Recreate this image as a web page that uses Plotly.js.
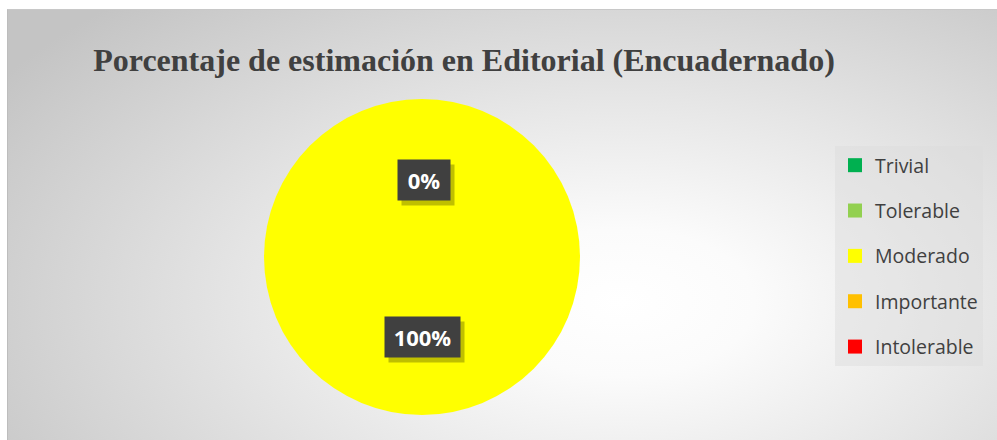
<!DOCTYPE html>
<html>
<head>
<meta charset="utf-8">
<script src="https://cdn.plot.ly/plotly-3.0.1.min.js"></script>
<style>
  html, body { margin: 0; padding: 0; background: #ffffff; }
  #wrap { position: relative; width: 997px; height: 440px; overflow: hidden; }
  #frame {
    position: absolute; left: 7px; top: 9px; width: 990px; height: 431px;
    box-sizing: border-box;
    border-top: 1px solid #c8c8c8; border-left: 1px solid #bdbdbd;
    background: radial-gradient(ellipse 75% 95% at 62% 68%, #ffffff 0%, #fbfbfb 18%, #e6e6e6 50%, #c4c4c4 100%);
  }
  #chart { position: absolute; left: 0; top: 0; width: 997px; height: 440px; }
</style>
</head>
<body>
<div id="wrap">
  <div id="frame"></div>
  <div id="chart"></div>
</div>
<script>
// ---- data ----
const categories = ["Trivial", "Tolerable", "Moderado", "Importante", "Intolerable"];
const values = [0, 0, 100, 0, 0];
const colors = ["#00B050", "#92D050", "#FFFF00", "#FFC000", "#FF0000"];
const chartTitle = "Porcentaje de estimación en Editorial (Encuadernado)";

// visible data labels: the stacked zero labels and the full slice
const labelValues = [0, 100];

const pie = {
  type: "pie",
  labels: categories,
  values: values,
  marker: { colors: colors, line: { width: 0 } },
  sort: false,
  direction: "clockwise",
  rotation: 0,
  textinfo: "none",
  hoverinfo: "label+percent",
  showlegend: false,
  domain: { x: [264 / 997, 580 / 997], y: [25 / 440, 341 / 440] }
};

// legend entries, one per category (drawn by Plotly's legend)
const legendTraces = categories.map((c, i) => ({
  type: "scatter",
  mode: "markers",
  x: [null], y: [null],
  name: c,
  legendgroup: "g" + i,
  marker: { symbol: "square", size: 14, color: colors[i] },
  hoverinfo: "skip",
  showlegend: true
}));

// data label boxes (with soft shadow behind)
const labelPos = [
  { x: 424 / 997, y: 1 - 180 / 440, w: 40 },
  { x: 422 / 997, y: 1 - 337 / 440, w: 63 }
];
const annotations = [];
labelValues.forEach((v, i) => {
  const p = labelPos[i];
  const txt = v + "%";
  annotations.push({
    xref: "paper", yref: "paper", x: p.x, y: p.y, xanchor: "center", yanchor: "middle",
    xshift: 4, yshift: -5,
    text: " ", showarrow: false, width: p.w, height: 28, borderpad: 6,
    bgcolor: "rgba(0,0,0,0.25)",
    font: { family: "Open Sans, sans-serif", size: 22, color: "rgba(0,0,0,0)" }
  });
  annotations.push({
    xref: "paper", yref: "paper", x: p.x, y: p.y, xanchor: "center", yanchor: "middle",
    text: txt, showarrow: false, width: p.w, height: 28, borderpad: 6,
    bgcolor: "#404040",
    font: { family: "Open Sans, sans-serif", size: 22, color: "#ffffff", weight: "bold" }
  });
});

const layout = {
  width: 997, height: 440,
  margin: { l: 0, r: 0, t: 0, b: 0 },
  paper_bgcolor: "rgba(0,0,0,0)",
  plot_bgcolor: "rgba(0,0,0,0)",
  title: {
    text: chartTitle,
    x: 464 / 997, xanchor: "center",
    y: 1 - 60 / 440, yanchor: "middle",
    font: { family: "Liberation Serif, Times New Roman, serif", size: 32, color: "#404040", weight: "bold" }
  },
  xaxis: { visible: false, domain: [0.9, 0.95] },
  yaxis: { visible: false, domain: [0.9, 0.95] },
  showlegend: true,
  legend: {
    x: 835 / 997, xanchor: "left",
    y: 1 - 146 / 440, yanchor: "top",
    bgcolor: "rgba(220,220,220,0.45)",
    font: { family: "Open Sans, sans-serif", size: 19.5, color: "#404040" },
    tracegroupgap: 17,
    traceorder: "grouped",
    itemclick: false
  },
  annotations: annotations
};

Plotly.newPlot("chart", [pie].concat(legendTraces), layout, { displayModeBar: false, staticPlot: true });
</script>
</body>
</html>
